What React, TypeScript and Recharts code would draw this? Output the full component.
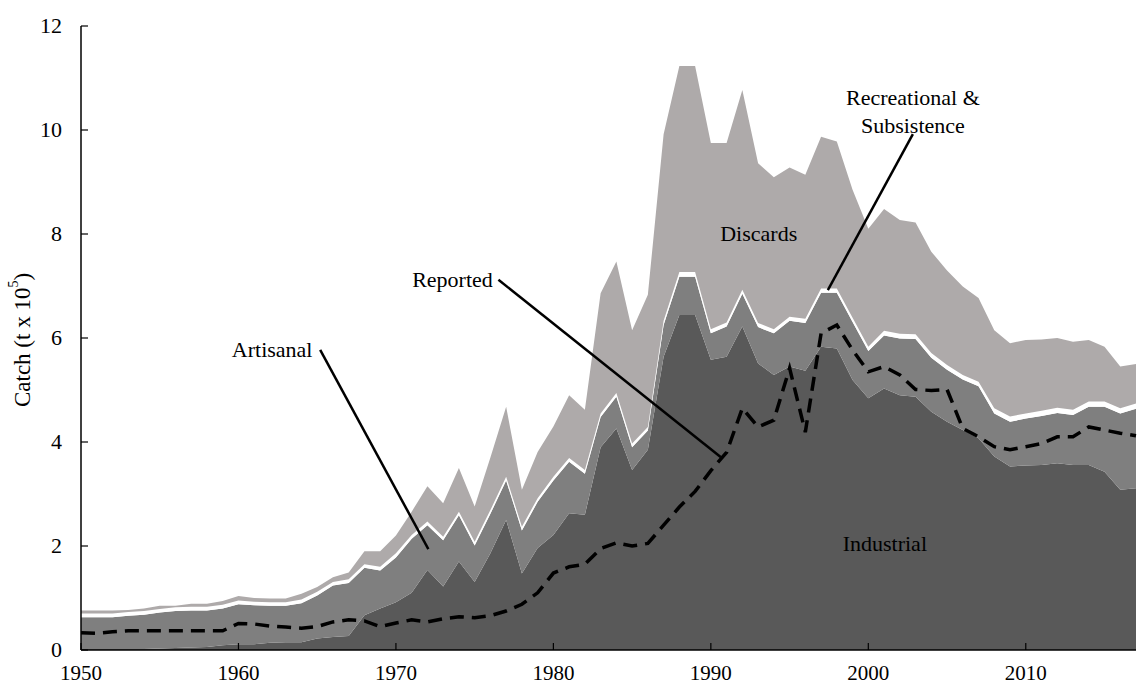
import React from 'react';
import { ComposedChart, Area, Line, XAxis, YAxis, ReferenceLine, ReferenceDot } from 'recharts';

const years = [
  1950, 1951, 1952, 1953, 1954, 1955, 1956, 1957, 1958, 1959,
  1960, 1961, 1962, 1963, 1964, 1965, 1966, 1967, 1968, 1969,
  1970, 1971, 1972, 1973, 1974, 1975, 1976, 1977, 1978, 1979,
  1980, 1981, 1982, 1983, 1984, 1985, 1986, 1987, 1988, 1989,
  1990, 1991, 1992, 1993, 1994, 1995, 1996, 1997, 1998, 1999,
  2000, 2001, 2002, 2003, 2004, 2005, 2006, 2007, 2008, 2009,
  2010, 2011, 2012, 2013, 2014, 2015, 2016, 2017,
];

// catch in t x 10^5, stacked bottom to top
const industrial = [
  0.02, 0.02, 0.02, 0.02, 0.02, 0.03, 0.04, 0.05, 0.06, 0.09,
  0.11, 0.11, 0.14, 0.15, 0.15, 0.22, 0.25, 0.27, 0.67, 0.8,
  0.92, 1.1, 1.54, 1.22, 1.7, 1.31, 1.86, 2.5, 1.47, 1.96,
  2.21, 2.63, 2.6, 3.9, 4.26, 3.46, 3.85, 5.64, 6.44, 6.44,
  5.58, 5.64, 6.22, 5.51, 5.29, 5.45, 5.37, 5.83, 5.8, 5.19,
  4.84, 5.03, 4.9, 4.87, 4.58, 4.39, 4.23, 4.07, 3.72, 3.53,
  3.55, 3.56, 3.59, 3.56, 3.56, 3.43, 3.08, 3.11,
];

const artisanal = [
  0.61, 0.61, 0.61, 0.64, 0.66, 0.69, 0.71, 0.71, 0.7, 0.71,
  0.77, 0.75, 0.71, 0.7, 0.75, 0.83, 0.99, 1.02, 0.91, 0.73,
  0.86, 1.04, 0.86, 0.89, 0.89, 0.7, 0.76, 0.76, 0.83, 0.89,
  1.05, 0.99, 0.79, 0.58, 0.61, 0.44, 0.37, 0.61, 0.74, 0.74,
  0.51, 0.58, 0.63, 0.7, 0.8, 0.88, 0.92, 1.04, 1.07, 1.12,
  0.91, 1.02, 1.09, 1.11, 1.04, 1.0, 0.97, 1.0, 0.83, 0.86,
  0.9, 0.94, 0.97, 0.96, 1.12, 1.25, 1.47, 1.53,
];

const recreational = [
  0.07, 0.07, 0.07, 0.07, 0.07, 0.07, 0.07, 0.07, 0.07, 0.07,
  0.07, 0.07, 0.07, 0.07, 0.07, 0.07, 0.07, 0.07, 0.07, 0.07,
  0.08, 0.07, 0.07, 0.07, 0.07, 0.07, 0.07, 0.07, 0.07, 0.07,
  0.07, 0.07, 0.07, 0.07, 0.07, 0.07, 0.07, 0.08, 0.09, 0.09,
  0.08, 0.08, 0.08, 0.08, 0.08, 0.08, 0.08, 0.08, 0.08, 0.08,
  0.08, 0.09, 0.09, 0.09, 0.09, 0.09, 0.09, 0.09, 0.1, 0.1,
  0.1, 0.1, 0.1, 0.1, 0.1, 0.1, 0.1, 0.1,
];

const discards = [
  0.06, 0.06, 0.06, 0.04, 0.05, 0.06, 0.03, 0.06, 0.06, 0.07,
  0.09, 0.07, 0.07, 0.07, 0.11, 0.09, 0.09, 0.13, 0.25, 0.3,
  0.34, 0.45, 0.68, 0.64, 0.84, 0.68, 1.01, 1.35, 0.71, 0.89,
  0.97, 1.21, 1.16, 2.31, 2.53, 2.18, 2.54, 3.59, 3.96, 3.96,
  3.58, 3.45, 3.84, 3.07, 2.92, 2.87, 2.77, 2.92, 2.83, 2.46,
  2.27, 2.34, 2.19, 2.15, 1.95, 1.82, 1.7, 1.61, 1.5, 1.41,
  1.41, 1.37, 1.34, 1.31, 1.18, 1.05, 0.8, 0.76,
];

const reported = [
  0.33, 0.32, 0.35, 0.37, 0.37, 0.37, 0.37, 0.37, 0.37, 0.37,
  0.51, 0.5, 0.46, 0.44, 0.42, 0.45, 0.54, 0.58, 0.56, 0.45,
  0.52, 0.58, 0.54, 0.6, 0.64, 0.62, 0.66, 0.75, 0.88, 1.1,
  1.48, 1.6, 1.65, 1.95, 2.06, 2.0, 2.05, 2.4, 2.75, 3.05,
  3.45, 3.8, 4.65, 4.29, 4.42, 5.42, 4.19, 6.09, 6.25, 5.77,
  5.35, 5.45, 5.29, 5.01, 4.99, 5.01, 4.26, 4.1, 3.91, 3.85,
  3.91, 3.97, 4.1, 4.1, 4.29, 4.23, 4.17, 4.12,
];

const xTicks = [1950, 1960, 1970, 1980, 1990, 2000, 2010];
const yTicks = [0, 2, 4, 6, 8, 10, 12];

const rows = years.map((year, i) => ({
  year,
  industrial: industrial[i],
  artisanal: artisanal[i],
  recreational: recreational[i],
  discards: discards[i],
  reported: reported[i],
}));

const FONT = '"Liberation Serif", "Times New Roman", serif';
const labelStyle = { fill: '#000', fontSize: 22, fontFamily: FONT, position: 'center' as const };

function XTick({ x, y, payload }: any) {
  return (
    <text x={x} y={y} dy={13} textAnchor="middle" fontFamily={FONT} fontSize={21} fill="#000">
      {payload.value}
    </text>
  );
}

function YTick({ x, y, payload }: any) {
  return (
    <text x={x} y={y} dy={7} textAnchor="end" fontFamily={FONT} fontSize={22} fill="#000">
      {payload.value}
    </text>
  );
}

function YTitle(props: any) {
  const vb = props.viewBox || { x: 0, y: 26, width: 81, height: 624 };
  const cx = 22;
  const cy = vb.y + vb.height / 2 + 2;
  return (
    <text
      x={cx}
      y={cy}
      transform={`rotate(-90, ${cx}, ${cy})`}
      textAnchor="middle"
      dominantBaseline="central"
      fontFamily={FONT}
      fontSize={23}
      fill="#000"
    >
      <tspan>Catch (t x 10</tspan>
      <tspan fontSize={14} dy={-9}>5</tspan>
      <tspan dy={9}>)</tspan>
    </text>
  );
}

export default function App() {
  return (
    <div style={{ position: 'absolute', left: 0, top: 0, background: '#fff' }}>
      <ComposedChart
        width={1138}
        height={685}
        data={rows}
        margin={{ top: 26, right: 2, bottom: 0, left: 0 }}
      >
        <XAxis
          dataKey="year"
          type="number"
          domain={[1950, 2017]}
          ticks={xTicks}
          interval={0}
          height={35}
          tickSize={-7}
          tickMargin={24}
          axisLine={{ stroke: '#000', strokeWidth: 1.5 }}
          tickLine={{ stroke: '#000', strokeWidth: 1.2 }}
          tick={<XTick />}
        />
        <YAxis
          type="number"
          domain={[0, 12]}
          ticks={yTicks}
          interval={0}
          width={81}
          tickSize={-7}
          tickMargin={26}
          axisLine={{ stroke: '#000', strokeWidth: 1.5 }}
          tickLine={{ stroke: '#000', strokeWidth: 1.2 }}
          tick={<YTick />}
          label={<YTitle />}
        />
        <Area type="linear" dataKey="industrial" stackId="c" stroke="none" fill="#595959" fillOpacity={1} isAnimationActive={false} />
        <Area type="linear" dataKey="artisanal" stackId="c" stroke="none" fill="#7f7f7f" fillOpacity={1} isAnimationActive={false} />
        <Area type="linear" dataKey="recreational" stackId="c" stroke="none" fill="#ffffff" fillOpacity={1} isAnimationActive={false} />
        <Area type="linear" dataKey="discards" stackId="c" stroke="none" fill="#aeaaaa" fillOpacity={1} isAnimationActive={false} />
        <Line
          type="linear"
          dataKey="reported"
          stroke="#000"
          strokeWidth={3.5}
          strokeDasharray="14 8"
          dot={false}
          isAnimationActive={false}
        />

        <ReferenceLine segment={[{ x: 1965.19, y: 5.77 }, { x: 1972.06, y: 1.94 }]} stroke="#000" strokeWidth={2.5} ifOverflow="visible" />
        <ReferenceLine segment={[{ x: 1976.51, y: 7.12 }, { x: 1990.62, y: 3.71 }]} stroke="#000" strokeWidth={2.5} ifOverflow="visible" />
        <ReferenceLine segment={[{ x: 2002.83, y: 9.92 }, { x: 1997.43, y: 6.92 }]} stroke="#000" strokeWidth={2.5} ifOverflow="visible" />

        <ReferenceDot x={1962.14} y={5.79} r={0} stroke="none" fill="none" label={{ value: 'Artisanal', ...labelStyle }} />
        <ReferenceDot x={1973.59} y={7.13} r={0} stroke="none" fill="none" label={{ value: 'Reported', ...labelStyle }} />
        <ReferenceDot x={1993.04} y={8.02} r={0} stroke="none" fill="none" label={{ value: 'Discards', ...labelStyle }} />
        <ReferenceDot x={2001.05} y={2.06} r={0} stroke="none" fill="none" label={{ value: 'Industrial', ...labelStyle }} />
        <ReferenceDot x={2002.83} y={10.63} r={0} stroke="none" fill="none" label={{ value: 'Recreational &', ...labelStyle }} />
        <ReferenceDot x={2002.83} y={10.1} r={0} stroke="none" fill="none" label={{ value: 'Subsistence', ...labelStyle }} />
      </ComposedChart>
    </div>
  );
}
